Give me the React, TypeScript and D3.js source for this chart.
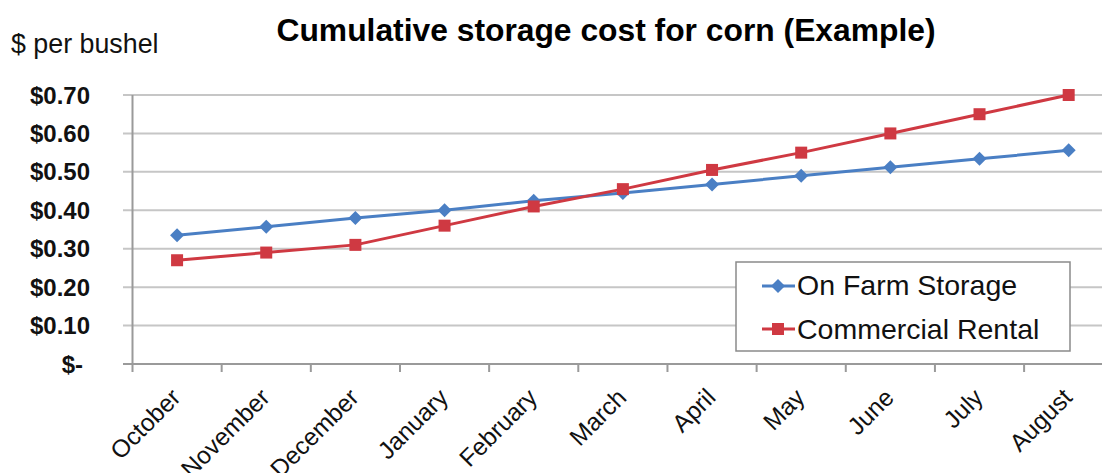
import React from "react";
import * as d3 from "d3";

// Cumulative storage cost per bushel, by month of storage
const months = [
  "October", "November", "December", "January", "February", "March",
  "April", "May", "June", "July", "August",
];
const onFarm = [0.335, 0.357, 0.38, 0.4, 0.425, 0.445, 0.467, 0.49, 0.512, 0.534, 0.556];
const commercial = [0.27, 0.29, 0.31, 0.36, 0.41, 0.455, 0.505, 0.55, 0.6, 0.65, 0.7];
const yTicks = [0, 0.1, 0.2, 0.3, 0.4, 0.5, 0.6, 0.7];
const seriesNames = ["On Farm Storage", "Commercial Rental"];

const W = 1102;
const H = 473;
const FONT = '"Liberation Sans", Arial, Helvetica, sans-serif';
const BLUE = "#4a7fc4";
const RED = "#cf3942";

const plotLeft = 132.5;
const bandW = 89.16;
const plotBottom = 364;
const plotTop = 95;

const x = d3
  .scaleBand<string>()
  .domain(months)
  .range([plotLeft, plotLeft + bandW * months.length])
  .paddingInner(0)
  .paddingOuter(0);
const y = d3.scaleLinear().domain([0, 0.7]).range([plotBottom, plotTop]);

const cx = (m: string) => (x(m) as number) + x.bandwidth() / 2;

const lineGen = d3
  .line<number>()
  .x((_, i) => cx(months[i]))
  .y((v) => y(v));

const fmt = (v: number) => (v === 0 ? "$-" : "$" + d3.format(".2f")(v));

function Diamond({ px, py, r = 7, color }: { px: number; py: number; r?: number; color: string }) {
  return (
    <path
      d={`M${px},${py - r}L${px + r},${py}L${px},${py + r}L${px - r},${py}Z`}
      fill={color}
    />
  );
}

function Square({ px, py, s = 12, color }: { px: number; py: number; s?: number; color: string }) {
  return <rect x={px - s / 2} y={py - s / 2} width={s} height={s} fill={color} />;
}

export default function App() {
  const edges = months.map((m) => x(m) as number).concat([plotLeft + bandW * months.length]);
  return (
    <div style={{ position: "absolute", left: 0, top: 0 }}>
      <svg width={W} height={H} style={{ display: "block", background: "#fff" }}>
        {/* gridlines */}
        {yTicks
          .filter((t) => t > 0)
          .map((t) => (
            <line
              key={t}
              x1={123}
              x2={W}
              y1={y(t)}
              y2={y(t)}
              stroke="#c6c6c6"
              strokeWidth={2}
            />
          ))}
        {/* axes */}
        <line x1={123} x2={W} y1={plotBottom} y2={plotBottom} stroke="#9a9a9a" strokeWidth={2} />
        <line x1={plotLeft} x2={plotLeft} y1={plotTop} y2={372} stroke="#9a9a9a" strokeWidth={2} />
        {edges.slice(1).map((e, i) => (
          <line key={i} x1={e} x2={e} y1={plotBottom} y2={372} stroke="#9a9a9a" strokeWidth={2} />
        ))}

        {/* y tick labels */}
        {yTicks.map((t) => (
          <text
            key={t}
            x={t === 0 ? 83 : 90}
            y={y(t)}
            dy="0.36em"
            textAnchor="end"
            fontFamily={FONT}
            fontWeight="bold"
            fontSize={24}
            fill="#111"
          >
            {fmt(t)}
          </text>
        ))}

        {/* x tick labels */}
        {months.map((m) => {
          const ax = cx(m) + 5;
          const ay = 399;
          return (
            <text
              key={m}
              x={ax}
              y={ay}
              transform={`rotate(-45 ${ax} ${ay})`}
              textAnchor="end"
              fontFamily={FONT}
              fontSize={24.5}
              fill="#111"
            >
              {m}
            </text>
          );
        })}

        {/* series */}
        <path d={lineGen(onFarm) || ""} fill="none" stroke={BLUE} strokeWidth={3} />
        {onFarm.map((v, i) => (
          <Diamond key={i} px={cx(months[i])} py={y(v)} color={BLUE} />
        ))}
        <path d={lineGen(commercial) || ""} fill="none" stroke={RED} strokeWidth={3} />
        {commercial.map((v, i) => (
          <Square key={i} px={cx(months[i])} py={y(v)} color={RED} />
        ))}

        {/* title and axis caption */}
        <text x={606} y={41} textAnchor="middle" fontFamily={FONT} fontWeight="bold" fontSize={31.8} fill="#000">
          Cumulative storage cost for corn (Example)
        </text>
        <text x={11} y={53} fontFamily={FONT} fontSize={26.8} fill="#111">
          $ per bushel
        </text>

        {/* legend */}
        <rect x={736} y={262} width={334} height={89} fill="#fff" stroke="#8a8a8a" strokeWidth={1.5} />
        <line x1={762} x2={795} y1={286} y2={286} stroke={BLUE} strokeWidth={3} />
        <Diamond px={778} py={286} color={BLUE} />
        <text x={797} y={295} fontFamily={FONT} fontSize={28.5} fill="#111">
          {seriesNames[0]}
        </text>
        <line x1={762} x2={795} y1={329} y2={329} stroke={RED} strokeWidth={3} />
        <Square px={778} py={329} color={RED} />
        <text x={797} y={339} fontFamily={FONT} fontSize={28.5} fill="#111">
          {seriesNames[1]}
        </text>
      </svg>
    </div>
  );
}
